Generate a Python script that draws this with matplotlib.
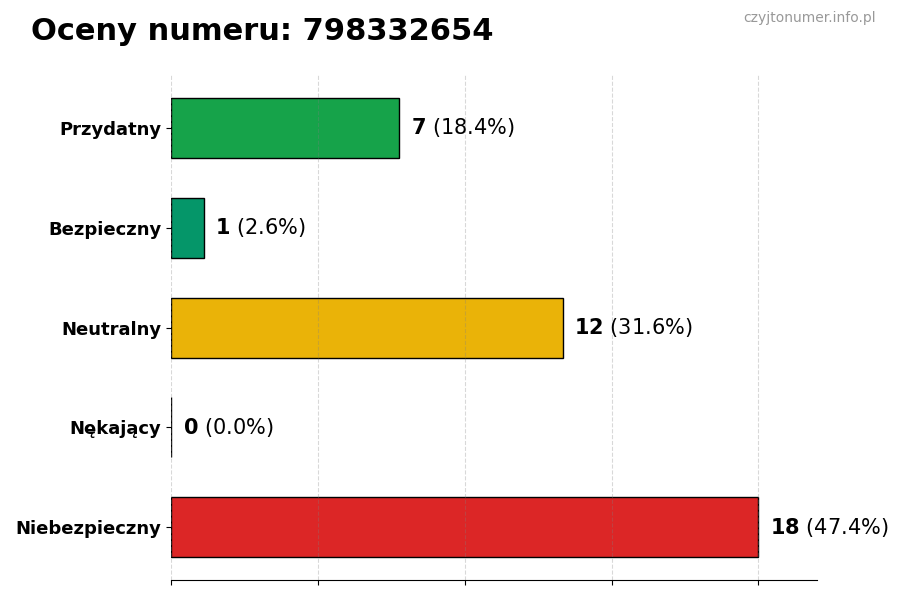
import numpy as np
import matplotlib.pyplot as plt

# Dane
categories = ["Przydatny", "Bezpieczny", "Neutralny", "Nękający", "Niebezpieczny"]
counts = [7, 1, 12, 0, 18]
colors = ["#16a34a", "#059669", "#eab308", "#1f2937", "#dc2626"]
number = "798332654"

total = sum(counts)
percents = [100.0 * c / total for c in counts]

fig = plt.figure(figsize=(9, 6), dpi=100)
ax = fig.add_axes([0.19, 0.033, 0.718, 0.842])

y = np.arange(len(categories))[::-1]
ax.barh(y, counts, height=0.6, color=colors, edgecolor="black", linewidth=1, zorder=1)

xmax = max(counts)
ax.set_xlim(0, xmax * 1.1)
ax.set_xticks(np.linspace(0, xmax, 5))
ax.set_xticklabels([])
# siatka rysowana nad słupkami, półprzezroczysta
ax.grid(axis="x", linestyle="--", color="gray", alpha=0.3, zorder=2)

ax.set_yticks(y)
ax.set_yticklabels(categories, fontsize=13, fontweight="bold")

for spine in ["top", "right", "left"]:
    ax.spines[spine].set_visible(False)

for yi, c, p in zip(y, counts, percents):
    ax.annotate(f"$\\bf{{{c}}}$ ({p:.1f}%)", xy=(c, yi), xytext=(8.5, 0),
                textcoords="offset points", va="center", ha="left", fontsize=15)

fig.text(0.034, 0.948, f"Oceny numeru: {number}", fontsize=22, fontweight="bold",
         va="center", ha="left")
fig.text(0.973, 0.97, "czyjtonumer.info.pl", fontsize=10, color="#999999",
         va="center", ha="right")

fig.savefig("out.png", dpi=100)
